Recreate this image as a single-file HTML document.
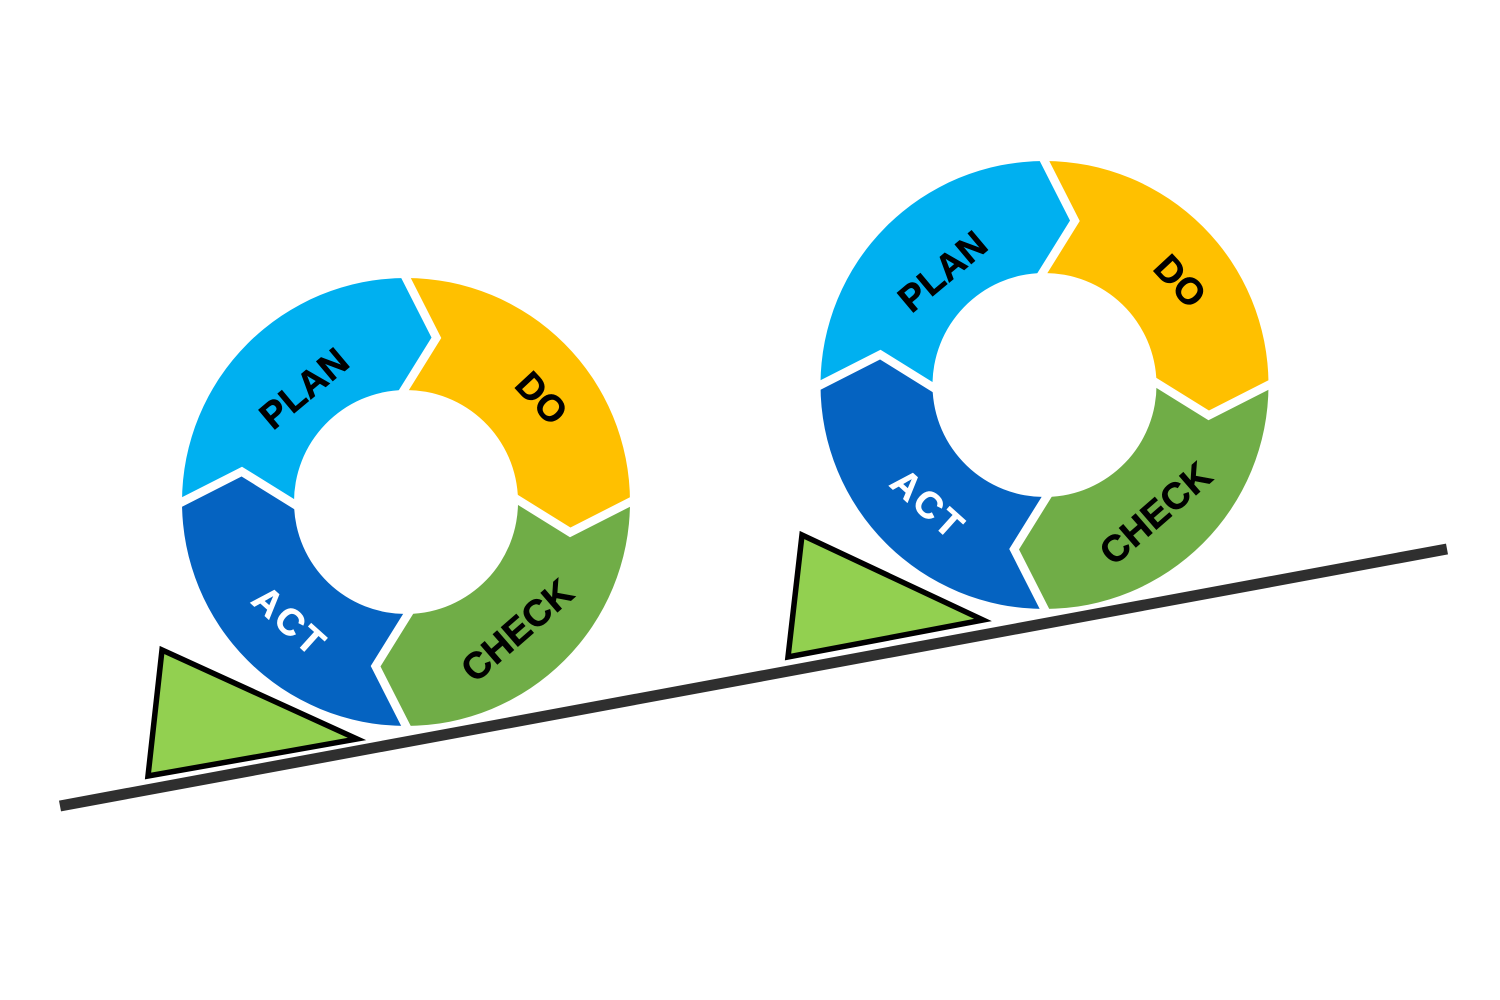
<!DOCTYPE html>
<html>
<head>
<meta charset="utf-8">
<style>
  html, body { margin: 0; padding: 0; background: #ffffff; }
  body { width: 1500px; height: 1000px; overflow: hidden; }
  svg { display: block; }
  text { font-family: "Liberation Sans", Arial, sans-serif; font-weight: bold; font-size: 37px; letter-spacing: 0.5px; text-anchor: middle; stroke-width: 0.7px; }
</style>
</head>
<body>
<svg width="1500" height="1000" viewBox="0 0 1500 1000" xmlns="http://www.w3.org/2000/svg">
  <defs>
    <path id="seg" d="M -224 0 A 224 224 0 0 1 0 -224 L 30.4 -164.2 L -2 -112 A 112 112 0 0 0 -112 2 L -164.2 -30.4 Z"/>
    <path id="gap" d="M -2.7 -229.3 L 30.4 -164.2 L -6.9 -104.2" fill="none" stroke="#ffffff" stroke-width="8.5" stroke-linejoin="miter" stroke-miterlimit="10"/>
    <g id="wheel">
      <use href="#seg" fill="#00B0F0"/>
      <use href="#seg" fill="#FFC000" transform="rotate(90)"/>
      <use href="#seg" fill="#70AD47" transform="rotate(180)"/>
      <use href="#seg" fill="#0563C1" transform="rotate(270)"/>
      <use href="#gap"/>
      <use href="#gap" transform="rotate(90)"/>
      <use href="#gap" transform="rotate(180)"/>
      <use href="#gap" transform="rotate(270)"/>
    </g>
  </defs>

  <!-- wheel 1 -->
  <g transform="translate(406,502)">
    <use href="#wheel"/>
    <text transform="translate(-102,-114) rotate(-40)" y="13" fill="#000" stroke="#000">PLAN</text>
    <text transform="translate(136,-104) rotate(47)" y="13" fill="#000" stroke="#000">DO</text>
    <text transform="translate(111,128) rotate(-41)" y="13" fill="#000" stroke="#000">CHECK</text>
    <text transform="translate(-116,119) rotate(42)" y="13" fill="#fff" stroke="#fff" style="letter-spacing:3px">ACT</text>
  </g>

  <!-- wheel 2 -->
  <g transform="translate(1044.5,385)">
    <use href="#wheel"/>
    <text transform="translate(-102,-114) rotate(-40)" y="13" fill="#000" stroke="#000">PLAN</text>
    <text transform="translate(136,-104) rotate(47)" y="13" fill="#000" stroke="#000">DO</text>
    <text transform="translate(111,128) rotate(-41)" y="13" fill="#000" stroke="#000">CHECK</text>
    <text transform="translate(-116,119) rotate(42)" y="13" fill="#fff" stroke="#fff" style="letter-spacing:3px">ACT</text>
  </g>

  <!-- incline line -->
  <line x1="60" y1="806" x2="1447" y2="549" stroke="#2f2f2f" stroke-width="11" stroke-linecap="butt"/>

  <!-- wedges -->
  <polygon points="162,650 148,776 357,739" fill="#92D050" stroke="#000" stroke-width="5.5" stroke-linejoin="miter"/>
  <polygon points="802,535 788,657 983,620" fill="#92D050" stroke="#000" stroke-width="5.5" stroke-linejoin="miter"/>
</svg>
</body>
</html>
